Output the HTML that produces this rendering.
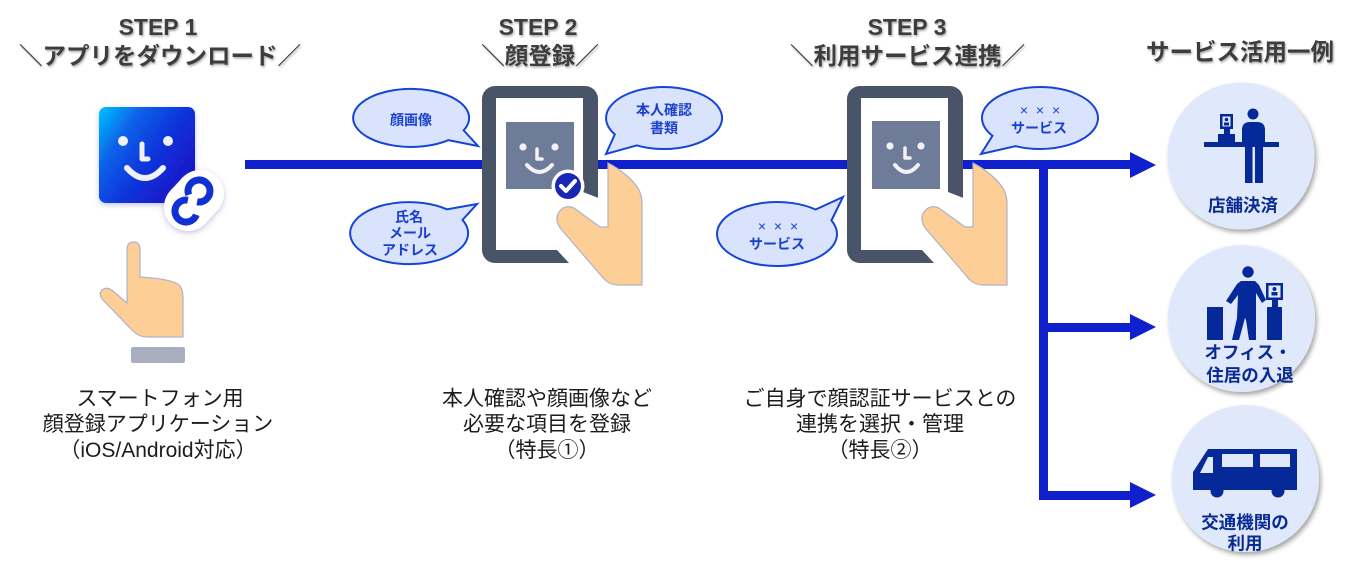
<!DOCTYPE html>
<html><head><meta charset="utf-8">
<style>
html,body{margin:0;padding:0;background:#fff;}
body{width:1346px;height:564px;overflow:hidden;}
svg{display:block;}
text{font-family:"Liberation Sans","Noto Sans CJK JP",sans-serif;}
.tt{font-weight:bold;fill:#3e3e3e;}
.bt{font-weight:bold;fill:#1a3fcc;font-size:14px;}
.ct{font-weight:bold;fill:#0a2c92;font-size:17.5px;}
.dt{fill:#1c1c1c;font-size:21px;}
</style></head><body>
<svg width="1346" height="564" viewBox="0 0 1346 564" xmlns="http://www.w3.org/2000/svg">
<defs>
<linearGradient id="ig" x1="0" y1="0" x2="1" y2="0.7">
<stop offset="0" stop-color="#00c6ff"/>
<stop offset="0.3" stop-color="#0a62ea"/>
<stop offset="0.62" stop-color="#0f34da"/>
<stop offset="1" stop-color="#1a14c6"/>
</linearGradient>
<filter id="ts" x="-10%" y="-30%" width="120%" height="160%"><feDropShadow dx="1" dy="1.5" stdDeviation="1" flood-color="#000" flood-opacity="0.35"/></filter>
<filter id="cs" x="-20%" y="-20%" width="145%" height="145%"><feDropShadow dx="2" dy="3" stdDeviation="2.5" flood-color="#000" flood-opacity="0.35"/></filter>
<filter id="gs" filterUnits="userSpaceOnUse" x="60" y="80" width="200" height="180"><feDropShadow dx="0" dy="2" stdDeviation="3" flood-color="#5060b0" flood-opacity="0.35"/></filter>
</defs>

<!-- Titles -->
<g class="tt" filter="url(#ts)">
<text x="158" y="35" text-anchor="middle" font-size="23">STEP 1</text>
<text x="160" y="64" text-anchor="middle" font-size="23.5">＼アプリをダウンロード／</text>
<text x="538" y="35" text-anchor="middle" font-size="23">STEP 2</text>
<text x="540" y="64" text-anchor="middle" font-size="23.5">＼顔登録／</text>
<text x="907" y="35" text-anchor="middle" font-size="23">STEP 3</text>
<text x="907.5" y="64" text-anchor="middle" font-size="23.5">＼利用サービス連携／</text>
<text x="1240" y="60" text-anchor="middle" font-size="23.5">サービス活用一例</text>
</g>

<!-- Connector lines -->
<g fill="#1020cc">
<rect x="245" y="160" width="890" height="9"/>
<polygon points="1130,152 1156,165 1130,178"/>
<rect x="1039" y="160" width="9" height="340"/>
<rect x="1039" y="323" width="94" height="9"/>
<polygon points="1130,314 1156,327 1130,340"/>
<rect x="1039" y="491" width="94" height="9"/>
<polygon points="1130,482 1156,495 1130,508"/>
</g>

<!-- STEP 1 app icon -->
<rect x="99" y="107" width="96" height="96" rx="7" fill="url(#ig)" filter="url(#gs)"/>
<circle cx="123" cy="141" r="5" fill="#eef0fa"/>
<circle cx="168" cy="141" r="5" fill="#eef0fa"/>
<path d="M142,144 L142,159 L148,159" stroke="#eef0fa" stroke-width="5" fill="none" stroke-linecap="round" stroke-linejoin="round"/>
<path d="M127,168 Q145,188 163,168" stroke="#eef0fa" stroke-width="6" fill="none" stroke-linecap="round"/>
<g filter="url(#gs)" fill="#fff">
<circle cx="188" cy="207" r="24"/>
<circle cx="200" cy="194" r="24"/>
<line x1="188" y1="207" x2="200" y2="194" stroke="#fff" stroke-width="48"/>
</g>
<path d="M188.7,194.8 A11,11 0 1 1 197.1,201.8" stroke="#1030d4" stroke-width="7" fill="none"/>
<path d="M196.3,214.8 A11,11 0 1 1 187.9,200.2" stroke="#1030d4" stroke-width="7" fill="none"/>

<!-- STEP 1 hand -->
<path d="M127,250 Q127,242 133.5,242 Q140,242 140,250 L140,277 Q174,279 180,286 Q183,290 183,298 L183,337 L147,337 Q139,337 133,331 L103,300 Q98,294 102,290 Q107,286 113,291 L127,303 Z" fill="#fdcf97" stroke="#adb3c7" stroke-width="1.2"/>
<rect x="131" y="347" width="54" height="16" rx="2" fill="#a9aec1"/>

<!-- STEP 2 phone -->
<g>
<rect x="482" y="86" width="116" height="177" rx="13" fill="#4a5469"/>
<rect x="496" y="98" width="87" height="152" fill="#fff"/>
<polygon points="583,192 601,199 601,266 569,266 569,263 557,250 583,250" fill="#fff"/>
<rect x="506" y="122" width="68" height="67" fill="#6f7c99"/>
<circle cx="523" cy="147" r="3.6" fill="#f2f2f6"/>
<circle cx="555" cy="147" r="3.6" fill="#f2f2f6"/>
<path d="M537,149 L537,159 L542,159" stroke="#f2f2f6" stroke-width="3.5" fill="none" stroke-linecap="round" stroke-linejoin="round"/>
<path d="M527,165 Q539.5,179 552,165" stroke="#f2f2f6" stroke-width="4" fill="none" stroke-linecap="round"/>
<circle cx="568" cy="186" r="16.5" fill="#fff"/>
<circle cx="568" cy="186" r="13" fill="#1828b4"/>
<path d="M561,186 L566,191 L575,181" stroke="#fff" stroke-width="4" fill="none" stroke-linecap="round" stroke-linejoin="round"/>
<path d="M608,163 C622,170 634,181 639,190 Q642,196 642,204 L642,285 L618,285 Q610,285 604,279 L561,229 Q554,220 559,212 Q565,204 574,208 L600,227 L608,227 Z" fill="#fdcf97" stroke="#adb3c7" stroke-width="1.2"/>
</g>

<!-- STEP 3 phone -->
<g transform="translate(365,0)">
<rect x="482" y="86" width="116" height="177" rx="13" fill="#4a5469"/>
<rect x="496" y="98" width="87" height="152" fill="#fff"/>
<polygon points="583,192 601,199 601,266 569,266 569,263 557,250 583,250" fill="#fff"/>
<rect x="507" y="121" width="68" height="68" fill="#6f7c99"/>
<circle cx="525" cy="146" r="3.6" fill="#f2f2f6"/>
<circle cx="556" cy="146" r="3.6" fill="#f2f2f6"/>
<path d="M540,148 L540,158 L545,158" stroke="#f2f2f6" stroke-width="3.5" fill="none" stroke-linecap="round" stroke-linejoin="round"/>
<path d="M530,165 Q541.5,179 553,165" stroke="#f2f2f6" stroke-width="4" fill="none" stroke-linecap="round"/>
<path d="M608,163 C622,170 634,181 639,190 Q642,196 642,204 L642,285 L618,285 Q610,285 604,279 L561,229 Q554,220 559,212 Q565,204 574,208 L600,227 L608,227 Z" fill="#fdcf97" stroke="#adb3c7" stroke-width="1.2"/>
</g>

<!-- Speech bubbles -->
<g fill="#d9e4fc" stroke="#1545d8" stroke-width="2" stroke-linejoin="miter">
<path d="M463.6,130.3 A58,29 0 1 0 448.3,140.2 L478,146 Z"/>
<path d="M446.9,209.3 A59,31 0 1 0 462.5,219.9 L477,204 Z"/>
<path d="M636.8,145.4 A58,31 0 1 0 614.8,134.4 L606,154 Z"/>
<path d="M1015.5,146.1 A58,31 0 1 0 992.5,135.8 L981,154 Z"/>
<path d="M815.6,209.5 A60,32 0 1 0 831.4,220.5 L843,197 Z"/>
</g>
<g class="bt" text-anchor="middle">
<text x="411" y="125">顔画像</text>
<text x="409" y="222">氏名</text>
<text x="410" y="238">メール</text>
<text x="410" y="255">アドレス</text>
<text x="664" y="115">本人確認</text>
<text x="664" y="133">書類</text>
<text x="1039" y="133">サービス</text>
<text x="777" y="249">サービス</text>
</g>
<g fill="#1a3fcc" font-size="14" text-anchor="middle" letter-spacing="2">
<text x="1041" y="115">× × ×</text>
<text x="779" y="231">× × ×</text>
</g>

<!-- Bottom descriptions -->
<g class="dt" text-anchor="middle">
<text x="160" y="405.5">スマートフォン用</text>
<text x="158" y="431">顔登録アプリケーション</text>
<text x="158" y="457">（iOS/Android対応）</text>
<text x="547" y="405.5">本人確認や顔画像など</text>
<text x="547" y="431">必要な項目を登録</text>
<text x="547" y="457">（特長①）</text>
<text x="880" y="405.5">ご自身で顔認証サービスとの</text>
<text x="880" y="431">連携を選択・管理</text>
<text x="880" y="457">（特長②）</text>
</g>

<!-- Service circles -->
<g fill="#e0e8fb" filter="url(#cs)">
<circle cx="1241" cy="156" r="73.5"/>
<circle cx="1241.5" cy="318.5" r="73.5"/>
<circle cx="1245.5" cy="478.5" r="73.5"/>
</g>

<!-- Circle 1 icon: store -->
<g fill="#06299a">
<rect x="1204" y="142" width="75" height="5"/>
<rect x="1220" y="114" width="13" height="15"/>
<rect x="1224" y="128" width="6" height="7"/>
<rect x="1218" y="134" width="17" height="8"/>
<rect x="1222.5" y="116.5" width="8" height="10" fill="#e0e8fb"/>
<circle cx="1226.5" cy="119.5" r="1.8"/>
<rect x="1224" y="122.5" width="5" height="3"/>
<circle cx="1253" cy="114" r="5.5"/>
<path d="M1242,147 L1242,130 Q1242,122 1250,122 L1257,122 Q1265,122 1265,130 L1265,147 Z"/>
<rect x="1245" y="147" width="7.5" height="36"/>
<rect x="1255" y="147" width="8" height="36"/>
</g>

<!-- Circle 2 icon: office gate -->
<g fill="#06299a">
<circle cx="1248" cy="272" r="5.7"/>
<polygon points="1241,281 1255,281 1259,285 1266,300 1262,303 1256,293 1256,318 1256,340 1249,340 1246,320 1245,318 1239,340 1232,340 1237,318 1238,295 1231,304 1226,301 1237,284"/>
<rect x="1207" y="307" width="16" height="33"/>
<rect x="1267" y="307" width="15" height="33"/>
<rect x="1272" y="299" width="6" height="9"/>
<rect x="1266" y="283" width="17" height="17"/>
<rect x="1268.5" y="285.5" width="12" height="12" fill="#e0e8fb"/>
<circle cx="1274.5" cy="289" r="2"/>
<rect x="1271.5" y="292" width="6" height="3.5"/>
</g>
<!-- Circle 3 icon: bus -->
<g fill="#06299a">
<polygon points="1208,449 1297,449 1297,490 1193,490 1193,472"/>
<polygon points="1200,473 1208,457 1213,457 1213,473" fill="#e0e8fb"/>
<rect x="1222" y="454" width="31" height="13" fill="#e0e8fb"/>
<rect x="1260" y="454" width="30" height="13" fill="#e0e8fb"/>
<circle cx="1217" cy="491" r="6.5"/>
<circle cx="1278" cy="491" r="6.5"/>
</g>

<g class="ct" text-anchor="middle">
<text x="1243" y="211.5">店舗決済</text>
<text x="1248" y="358.5">オフィス・</text>
<text x="1250" y="381.5">住居の入退</text>
<text x="1245" y="528.5">交通機関の</text>
<text x="1245" y="549.5">利用</text>
</g>
</svg>
</body></html>
